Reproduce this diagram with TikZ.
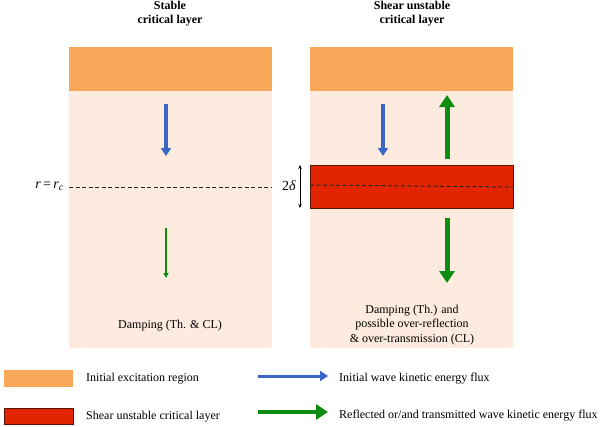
\documentclass[tikz,border=0pt]{standalone}
\usepackage{fontspec}
\setmainfont{Liberation Serif}
\usetikzlibrary{arrows.meta}
\definecolor{exc}{HTML}{F9A85A}
\definecolor{bgpeach}{HTML}{FCEBDE}
\definecolor{cl}{HTML}{E32400}
\definecolor{clborder}{HTML}{5A1505}
\definecolor{fluxblue}{HTML}{3A66C6}
\definecolor{fluxgreen}{HTML}{0F8C12}
\tikzset{
  panelbg/.style={fill=bgpeach, draw=none},
  excbox/.style={fill=exc, draw=none},
  clbox/.style={fill=cl, draw=clborder, line width=0.8pt},
  bluearrow/.style={draw=fluxblue, line width=3.5pt, -{Triangle[width=10pt,length=8pt]}},
  greenthin/.style={draw=fluxgreen, line width=1.6pt, -{Triangle[width=5pt,length=5pt]}},
  greenthick/.style={draw=fluxgreen, line width=5pt, -{Triangle[width=15pt,length=12pt]}},
  txt/.style={font=\fontsize{12}{14.5}\selectfont, inner sep=0pt, align=center},
  mathtxt/.style={font=\fontsize{14}{16}\selectfont, inner sep=0pt},
  ttl/.style={font=\bfseries\fontsize{12}{14}\selectfont, inner sep=0pt, align=center},
  clline/.style={dash pattern=on 4pt off 2.5pt, line width=1pt, draw=black!85},
  widtharrow/.style={line width=0.6pt, {Stealth[length=4pt,width=3.5pt]}-{Stealth[length=4pt,width=3.5pt]}},
}
\begin{document}
\begin{tikzpicture}[x=1pt,y=-1pt]
\useasboundingbox[fill=white] (0,0) rectangle (600,426);
% titles
\node[ttl] (t1) at (170,14) {Stable\\critical layer};
\node[ttl] (t2) at (412,14) {Shear unstable\\critical layer};
% left panel
\path[panelbg] (69,47) rectangle (272,348);
\path[excbox] (69,47) rectangle (272,91);
\coordinate (lb1) at (166,104);
\coordinate (lb2) at (166,156);
\draw[bluearrow] (lb1) -- (lb2);
\coordinate (ld1) at (69,187);
\coordinate (ld2) at (272,187);
\draw[clline] (ld1) -- (ld2);
\node[mathtxt, anchor=east] (rrc) at (64,186) {\textit{r}\,=\,\textit{r}\textsubscript{\textit{c}}};
\coordinate (lg1) at (166,228);
\coordinate (lg2) at (166,278);
\draw[greenthin] (lg1) -- (lg2);
\node[txt] (ldamp) at (170,326) {Damping (Th. \& CL)};
% right panel
\path[panelbg] (310,47) rectangle (513,348);
\path[excbox] (310,47) rectangle (513,91);
\draw[clbox] (310,165) rectangle (513,208);
\coordinate (rd1) at (310,185);
\coordinate (rd2) at (513,187);
\draw[clline] (rd1) -- (rd2);
\coordinate (w1) at (300,165);
\coordinate (w2) at (300,208);
\draw[widtharrow] (w1) -- (w2);
\node[mathtxt, anchor=east] (delta) at (296,186) {2\textit{δ}};
\coordinate (rb1) at (383,104);
\coordinate (rb2) at (383,156);
\draw[bluearrow] (rb1) -- (rb2);
\coordinate (rg1) at (447,159);
\coordinate (rg2) at (447,95);
\draw[greenthick] (rg1) -- (rg2);
\coordinate (rg3) at (447,218);
\coordinate (rg4) at (447,283);
\draw[greenthick] (rg3) -- (rg4);
\node[txt] (rdamp) at (412,325) {Damping (Th.) and\\possible over-reflection\\\& over-transmission (CL)};
% legend
\path[excbox] (4,370) rectangle (73,387);
\node[txt, anchor=west] (lexc) at (86,378.5) {Initial excitation region};
\draw[clbox] (4,408) rectangle (73,424);
\node[txt, anchor=west] (lcl) at (86,417) {Shear unstable critical layer};
\coordinate (lba) at (258,376);
\coordinate (lbb) at (328,376);
\draw[bluearrow, line width=3pt] (lba) -- (lbb);
\node[txt, anchor=west] (lblue) at (339,378.5) {Initial wave kinetic energy flux};
\coordinate (lga) at (258,412);
\coordinate (lgb) at (328,412);
\draw[greenthick, line width=4.5pt] (lga) -- (lgb);
\node[txt, anchor=west] (lgreen) at (339,416) {Reflected or/and transmitted wave kinetic energy flux};
\end{tikzpicture}
\end{document}
